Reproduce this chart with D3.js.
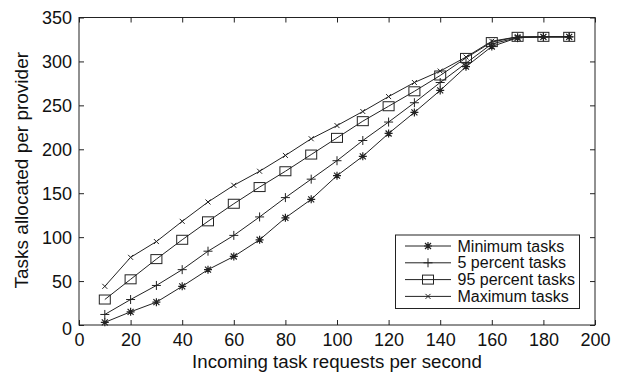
<!DOCTYPE html>
<html lang="en">
<head>
<meta charset="UTF-8" />
<title>Tasks allocated per provider</title>
<script src="https://d3js.org/d3.v7.min.js"></script>
<style>
  body { margin: 0; background: #fff; }
  text { font-family: "Liberation Sans", Arial, Helvetica, sans-serif; fill: #111; }
</style>
</head>
<body>
<svg width="619" height="373"></svg>
<script>
// incoming task requests per second
var rates = [10, 20, 30, 40, 50, 60, 70, 80, 90, 100, 110, 120, 130, 140, 150, 160, 170, 180, 190];

var minTasks = [3, 15, 26, 44, 63, 78, 97, 122, 143, 170, 192, 218, 242, 267, 294, 317, 327, 328, 328];
var p5Tasks  = [12, 29, 45, 63, 84, 102, 123, 145, 166, 187, 210, 231, 253, 276, 298, 320, 327, 328, 328];
var p95Tasks = [29, 52, 75, 97, 118, 138, 157, 175, 194, 213, 232, 249, 266, 284, 304, 322, 328, 328, 328];
var maxTasks = [44, 77, 95, 118, 140, 159, 175, 193, 212, 227, 243, 260, 276, 289, 305, 323, 328, 328, 328];

var xTicks = [0, 20, 40, 60, 80, 100, 120, 140, 160, 180, 200];
var yTicks = [0, 50, 100, 150, 200, 250, 300, 350];

var seriesNames = ["Minimum tasks", "5 percent tasks", "95 percent tasks", "Maximum tasks"];
var seriesMarks = ["star", "plus", "square", "cross"];
var seriesVals = [minTasks, p5Tasks, p95Tasks, maxTasks];

var svg = d3.select("svg");
var plotL = 79, plotR = 595, plotT = 17.5, plotB = 325;
var ink = "#222";

var x = d3.scaleLinear().domain([0, 200]).range([plotL, plotR]);
var y = d3.scaleLinear().domain([0, 350]).range([plotB, plotT]);

// frame
svg.append("rect")
   .attr("x", plotL).attr("y", plotT)
   .attr("width", plotR - plotL).attr("height", plotB - plotT)
   .attr("fill", "none").attr("stroke", ink).attr("stroke-width", 1);

// bottom axis (inward ticks), plus mirror ticks on top
var xAxis = svg.append("g").attr("transform", "translate(0," + plotB + ")")
   .call(d3.axisBottom(x).tickValues(xTicks).tickSizeInner(-5).tickSizeOuter(0).tickPadding(8));
xAxis.select(".domain").remove();
xAxis.selectAll("line").attr("stroke", ink);
xAxis.selectAll("text").attr("font-size", "18px").attr("fill", "#111")
     .attr("font-family", "Liberation Sans, Arial, sans-serif");

var xTop = svg.append("g").attr("transform", "translate(0," + plotT + ")")
   .call(d3.axisTop(x).tickValues(xTicks).tickSizeInner(-5).tickSizeOuter(0).tickFormat(""));
xTop.select(".domain").remove();
xTop.selectAll("line").attr("stroke", ink);

var yAxis = svg.append("g").attr("transform", "translate(" + plotL + ",0)")
   .call(d3.axisLeft(y).tickValues(yTicks).tickSizeInner(-5).tickSizeOuter(0).tickPadding(7));
yAxis.select(".domain").remove();
yAxis.selectAll("line").attr("stroke", ink);
yAxis.selectAll("text").attr("font-size", "18px").attr("fill", "#111")
     .attr("font-family", "Liberation Sans, Arial, sans-serif")
     .attr("dy", function(d) { return d === 0 ? "0.55em" : "0.36em"; });

var yRight = svg.append("g").attr("transform", "translate(" + plotR + ",0)")
   .call(d3.axisRight(y).tickValues(yTicks).tickSizeInner(-5).tickSizeOuter(0).tickFormat(""));
yRight.select(".domain").remove();
yRight.selectAll("line").attr("stroke", ink);

// axis titles
svg.append("text")
   .attr("x", (plotL + plotR) / 2).attr("y", 368)
   .attr("text-anchor", "middle").attr("font-size", "18.7px")
   .text("Incoming task requests per second");

svg.append("text")
   .attr("transform", "translate(28," + ((plotT + plotB) / 2 - 1) + ") rotate(-90)")
   .attr("text-anchor", "middle").attr("font-size", "19px")
   .text("Tasks allocated per provider");

// marker drawing
function drawMarker(g, kind, cx, cy) {
  if (kind === "star") {
    var r = 4;
    g.append("path")
     .attr("d", "M" + (cx - r) + "," + cy + "H" + (cx + r) +
                "M" + cx + "," + (cy - r) + "V" + (cy + r) +
                "M" + (cx - r * 0.75) + "," + (cy - r * 0.75) + "L" + (cx + r * 0.75) + "," + (cy + r * 0.75) +
                "M" + (cx - r * 0.75) + "," + (cy + r * 0.75) + "L" + (cx + r * 0.75) + "," + (cy - r * 0.75))
     .attr("stroke", ink).attr("stroke-width", 1.2).attr("fill", "none");
  } else if (kind === "plus") {
    var p = 4.5;
    g.append("path")
     .attr("d", "M" + (cx - p) + "," + cy + "H" + (cx + p) + "M" + cx + "," + (cy - p) + "V" + (cy + p))
     .attr("stroke", ink).attr("stroke-width", 1).attr("fill", "none");
  } else if (kind === "square") {
    g.append("rect")
     .attr("x", cx - 5.5).attr("y", cy - 4.5).attr("width", 11).attr("height", 9)
     .attr("stroke", ink).attr("stroke-width", 1).attr("fill", "none");
  } else if (kind === "cross") {
    var c = 2.5;
    g.append("path")
     .attr("d", "M" + (cx - c) + "," + (cy - c) + "L" + (cx + c) + "," + (cy + c) +
                "M" + (cx - c) + "," + (cy + c) + "L" + (cx + c) + "," + (cy - c))
     .attr("stroke", ink).attr("stroke-width", 1).attr("fill", "none");
  }
}

var line = d3.line().x(function(d) { return x(d[0]); }).y(function(d) { return y(d[1]); });

seriesVals.forEach(function(vals, si) {
  var pts = rates.map(function(r, i) { return [r, vals[i]]; });
  var g = svg.append("g");
  g.append("path").datum(pts)
   .attr("d", line).attr("fill", "none").attr("stroke", ink).attr("stroke-width", 1);
  pts.forEach(function(p) { drawMarker(g, seriesMarks[si], x(p[0]), y(p[1])); });
});

// legend
var lg = svg.append("g");
lg.append("rect")
  .attr("x", 395.5).attr("y", 235).attr("width", 184).attr("height", 73.5)
  .attr("fill", "#fff").attr("stroke", ink).attr("stroke-width", 1);
seriesNames.forEach(function(name, i) {
  var ly = 246 + i * 16.8;
  lg.append("line").attr("x1", 405).attr("x2", 451).attr("y1", ly).attr("y2", ly)
    .attr("stroke", ink).attr("stroke-width", 1);
  drawMarker(lg, seriesMarks[i], 428, ly);
  lg.append("text").attr("x", 457.5).attr("y", ly).attr("dy", "0.35em")
    .attr("font-size", "16px").text(name);
});
</script>
</body>
</html>
